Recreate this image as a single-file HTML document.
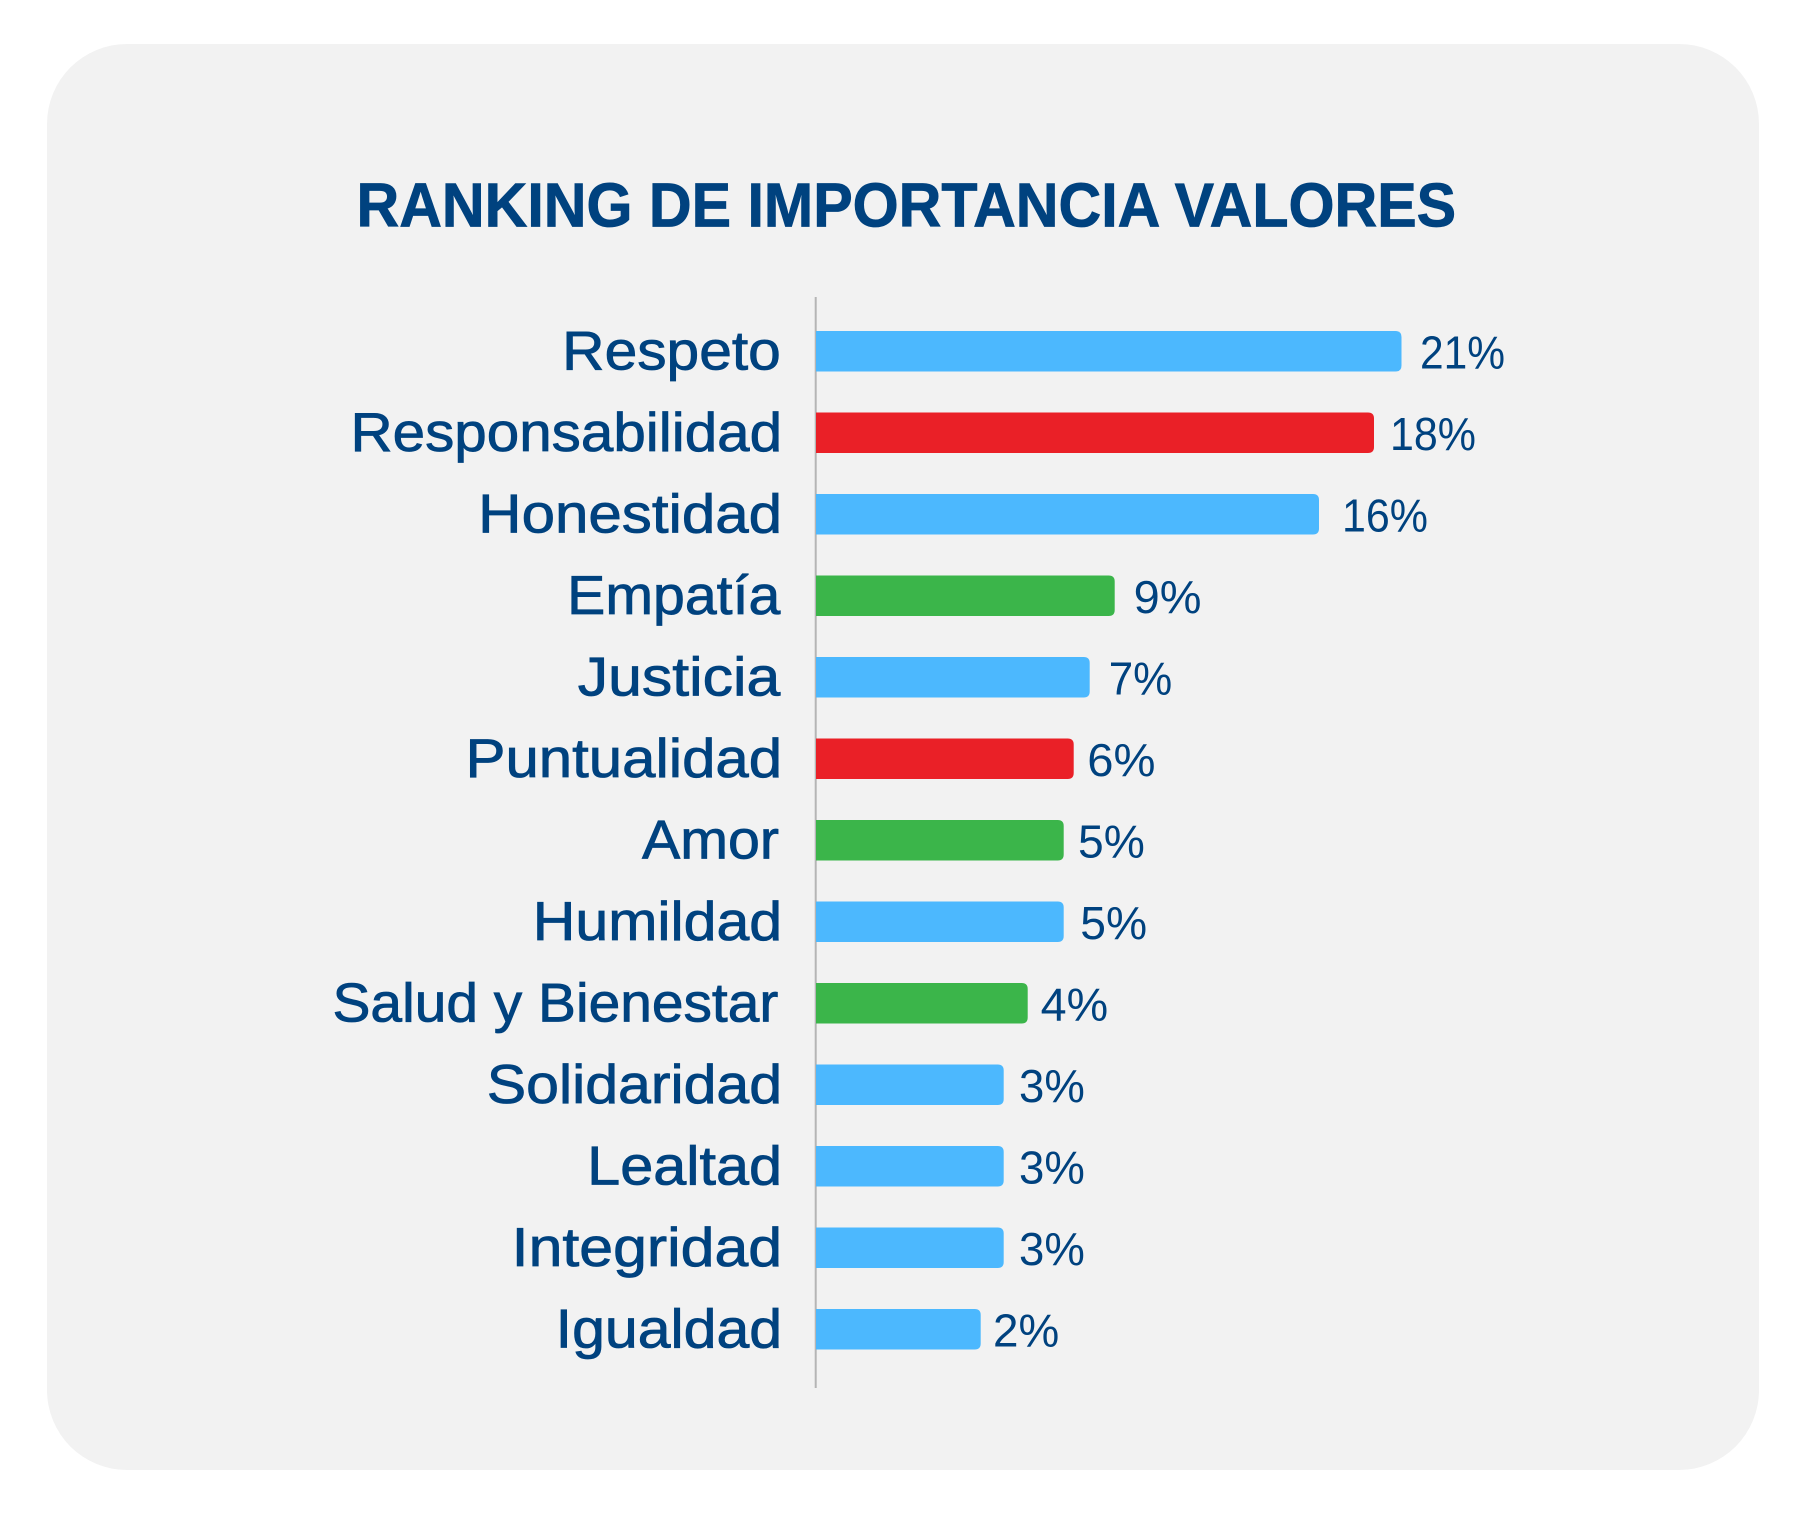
<!DOCTYPE html>
<html>
<head>
<meta charset="utf-8">
<style>
  html, body { margin: 0; padding: 0; background: #ffffff; }
  body { width: 1806px; height: 1514px; overflow: hidden; }
  svg { display: block; }
  text { font-family: "Liberation Sans", "DejaVu Sans", sans-serif; }
</style>
</head>
<body>
<svg width="1806" height="1514" viewBox="0 0 1806 1514" xmlns="http://www.w3.org/2000/svg">
  <rect x="0" y="0" width="1806" height="1514" fill="#ffffff"/>
  <rect x="47" y="44" width="1712" height="1426" rx="80" ry="80" fill="#f2f2f2"/>

  <!-- Title -->
  <text x="356.5" y="226.7" font-size="62" font-weight="bold" fill="#00427f" stroke="#00427f" stroke-width="0.8" textLength="1099.6" lengthAdjust="spacingAndGlyphs">RANKING DE IMPORTANCIA VALORES</text>

  <!-- Axis -->
  <rect x="814.7" y="297" width="2" height="1091" fill="#b5b5b5"/>

  <!-- Bars -->
  <g>
    <path d="M816 331 H1395.5 Q1401.5 331 1401.5 337 V365.5 Q1401.5 371.5 1395.5 371.5 H816 Z" fill="#4cb8fe"/>
    <path d="M816 412.5 H1368 Q1374 412.5 1374 418.5 V447 Q1374 453 1368 453 H816 Z" fill="#ea2027"/>
    <path d="M816 494 H1313 Q1319 494 1319 500 V528.5 Q1319 534.5 1313 534.5 H816 Z" fill="#4cb8fe"/>
    <path d="M816 575.5 H1108.7 Q1114.7 575.5 1114.7 581.5 V610 Q1114.7 616 1108.7 616 H816 Z" fill="#3bb54a"/>
    <path d="M816 657 H1083.7 Q1089.7 657 1089.7 663 V691.5 Q1089.7 697.5 1083.7 697.5 H816 Z" fill="#4cb8fe"/>
    <path d="M816 738.5 H1067.7 Q1073.7 738.5 1073.7 744.5 V773 Q1073.7 779 1067.7 779 H816 Z" fill="#ea2027"/>
    <path d="M816 820 H1057.7 Q1063.7 820 1063.7 826 V854.5 Q1063.7 860.5 1057.7 860.5 H816 Z" fill="#3bb54a"/>
    <path d="M816 901.5 H1057.7 Q1063.7 901.5 1063.7 907.5 V936 Q1063.7 942 1057.7 942 H816 Z" fill="#4cb8fe"/>
    <path d="M816 983 H1021.7 Q1027.7 983 1027.7 989 V1017.5 Q1027.7 1023.5 1021.7 1023.5 H816 Z" fill="#3bb54a"/>
    <path d="M816 1064.5 H997.7 Q1003.7 1064.5 1003.7 1070.5 V1099 Q1003.7 1105 997.7 1105 H816 Z" fill="#4cb8fe"/>
    <path d="M816 1146 H997.7 Q1003.7 1146 1003.7 1152 V1180.5 Q1003.7 1186.5 997.7 1186.5 H816 Z" fill="#4cb8fe"/>
    <path d="M816 1227.5 H997.7 Q1003.7 1227.5 1003.7 1233.5 V1262 Q1003.7 1268 997.7 1268 H816 Z" fill="#4cb8fe"/>
    <path d="M816 1309 H974.7 Q980.7 1309 980.7 1315 V1343.5 Q980.7 1349.5 974.7 1349.5 H816 Z" fill="#4cb8fe"/>
  </g>

  <!-- Category labels -->
  <g font-size="55" fill="#00427f" stroke="#00427f" stroke-width="0.8">
    <text x="562.2" y="369.5" textLength="218.6" lengthAdjust="spacingAndGlyphs">Respeto</text>
    <text x="350.5" y="451" textLength="431.6" lengthAdjust="spacingAndGlyphs">Responsabilidad</text>
    <text x="478.2" y="532.5" textLength="303.9" lengthAdjust="spacingAndGlyphs">Honestidad</text>
    <text x="567.2" y="614" textLength="213.1" lengthAdjust="spacingAndGlyphs">Empatía</text>
    <text x="577.8" y="695.5" textLength="202.5" lengthAdjust="spacingAndGlyphs">Justicia</text>
    <text x="465.5" y="777" textLength="316.6" lengthAdjust="spacingAndGlyphs">Puntualidad</text>
    <text x="642" y="858.5" textLength="137" lengthAdjust="spacingAndGlyphs">Amor</text>
    <text x="532.8" y="940" textLength="249.3" lengthAdjust="spacingAndGlyphs">Humildad</text>
    <text x="332.5" y="1021.5" textLength="445.8" lengthAdjust="spacingAndGlyphs">Salud y Bienestar</text>
    <text x="486.8" y="1103" textLength="295.3" lengthAdjust="spacingAndGlyphs">Solidaridad</text>
    <text x="587.2" y="1184.5" textLength="194.9" lengthAdjust="spacingAndGlyphs">Lealtad</text>
    <text x="511.7" y="1266" textLength="270.4" lengthAdjust="spacingAndGlyphs">Integridad</text>
    <text x="555.7" y="1347.5" textLength="226.4" lengthAdjust="spacingAndGlyphs">Igualdad</text>
  </g>

  <!-- Value labels -->
  <g font-size="46" fill="#00427f">
    <text x="1420" y="368.3" textLength="85" lengthAdjust="spacingAndGlyphs">21%</text>
    <text x="1390" y="449.8" textLength="86" lengthAdjust="spacingAndGlyphs">18%</text>
    <text x="1342" y="531.3" textLength="86" lengthAdjust="spacingAndGlyphs">16%</text>
    <text x="1133.7" y="612.8" textLength="67.8" lengthAdjust="spacingAndGlyphs">9%</text>
    <text x="1108.7" y="694.3" textLength="63.5" lengthAdjust="spacingAndGlyphs">7%</text>
    <text x="1087.3" y="775.8" textLength="68.2" lengthAdjust="spacingAndGlyphs">6%</text>
    <text x="1078" y="857.3" textLength="66.8" lengthAdjust="spacingAndGlyphs">5%</text>
    <text x="1080.3" y="938.8" textLength="66.8" lengthAdjust="spacingAndGlyphs">5%</text>
    <text x="1040.7" y="1020.3" textLength="67.5" lengthAdjust="spacingAndGlyphs">4%</text>
    <text x="1019" y="1101.8" textLength="65.8" lengthAdjust="spacingAndGlyphs">3%</text>
    <text x="1019" y="1183.3" textLength="65.8" lengthAdjust="spacingAndGlyphs">3%</text>
    <text x="1019" y="1264.8" textLength="65.8" lengthAdjust="spacingAndGlyphs">3%</text>
    <text x="993" y="1346.3" textLength="66.2" lengthAdjust="spacingAndGlyphs">2%</text>
  </g>
</svg>
</body>
</html>
